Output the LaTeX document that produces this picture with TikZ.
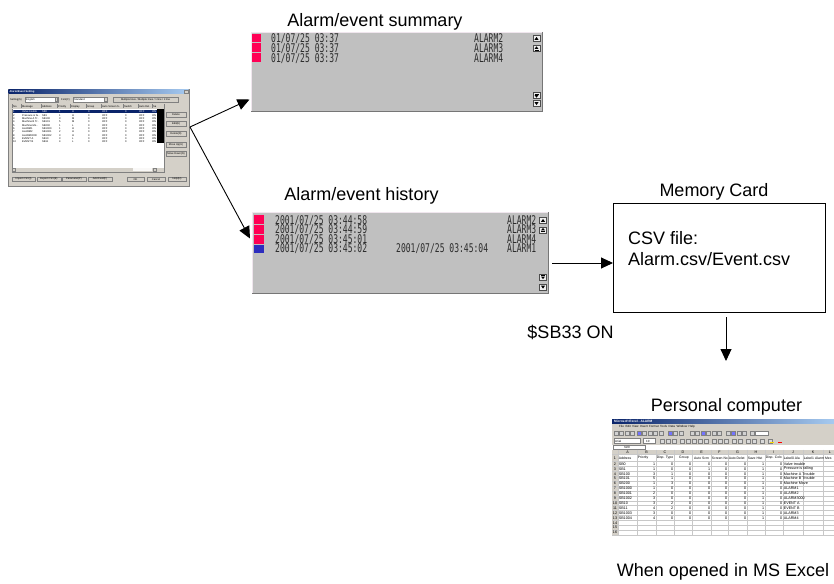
\documentclass[tikz,border=0pt]{standalone}
\usepackage{fontspec}
\setmainfont{Liberation Sans}
\newfontfamily\lcd[FakeStretch=0.67]{DejaVu Sans Mono}
\usetikzlibrary{arrows.meta,calc}
\newcommand\lcdlines[2]{\vtop{\baselineskip=#1\lineskiplimit=-20pt\lineskip=0pt #2}}
\definecolor{panelgray}{RGB}{192,192,192}
\definecolor{panellight}{RGB}{240,230,238}
\definecolor{paneldark}{RGB}{118,118,118}
\definecolor{alarmred}{RGB}{255,0,85}
\definecolor{alarmblue}{RGB}{45,45,190}
\definecolor{lcdtext}{RGB}{45,45,45}
\definecolor{winface}{RGB}{212,208,200}
\definecolor{winnavy}{RGB}{10,36,106}
\definecolor{winsky}{RGB}{166,202,240}
\definecolor{winshadow}{RGB}{128,128,128}
\definecolor{xlgrid}{RGB}{200,200,200}
\begin{document}
\begin{tikzpicture}[x=1pt,y=-1pt,
  caption/.style={font=\fontsize{18}{21}\selectfont, inner sep=0pt, anchor=base},
  bodytext/.style={font=\fontsize{18}{21}\selectfont, inner sep=0pt, anchor=base west},
  panel/.style={fill=panelgray, inner sep=0pt, anchor=north west},
  conn/.style={-{Triangle[length=12pt,width=11pt]}, line width=0.9pt, black},
  lcdrow/.style={font=\lcd\fontsize{12}{12}\selectfont, text=lcdtext, inner sep=0pt, anchor=base west},
  tiny/.style={font=\fontsize{2.6}{3}\selectfont, inner sep=0pt, anchor=west},
  xl/.style={font=\fontsize{3.7}{4}\selectfont, inner sep=0pt},
  winbtn/.style={fill=winface, draw=winshadow, line width=0.3pt},
  sbup/.pic={\filldraw[fill=gray!12, draw=black!70, line width=0.4pt] (-3.5,-3) rectangle (3.5,3);
    \fill[black] (-2,1.3) -- (2,1.3) -- (0,-1.6) -- cycle;},
  sbupbar/.pic={\filldraw[fill=gray!12, draw=black!70, line width=0.4pt] (-3.5,-3) rectangle (3.5,3);
    \fill[black] (-2,0.4) -- (2,0.4) -- (0,-2.1) -- cycle;
    \draw[black, line width=0.5pt] (-2,1.6) -- (2,1.6);},
  sbdown/.pic={\filldraw[fill=gray!12, draw=black!70, line width=0.4pt] (-3.5,-3) rectangle (3.5,3);
    \fill[black] (-2,-1.3) -- (2,-1.3) -- (0,1.6) -- cycle;},
  sbdownbar/.pic={\filldraw[fill=gray!12, draw=black!70, line width=0.4pt] (-3.5,-3) rectangle (3.5,3);
    \fill[black] (-2,-0.4) -- (2,-0.4) -- (0,2.1) -- cycle;
    \draw[black, line width=0.5pt] (-2,-1.6) -- (2,-1.6);},
]
\useasboundingbox (0,0) rectangle (834,583);

% ================= dialog screenshot =================
\node[draw=winshadow, fill=winface, line width=0.4pt, minimum width=181pt, minimum height=97pt, inner sep=0pt, anchor=north west] (dialog) at (8,89) {};
\shade[left color=winnavy, right color=winsky] (8.5,89.5) rectangle (188.5,93.5);
\node[tiny, text=white, font=\bfseries\fontsize{2.6}{3}\selectfont] (dtitle) at (9.5,91.5) {Alarm/Event Setting};
\filldraw[winbtn] (184.5,90.2) rectangle (188,92.8);
\node[tiny] (dset) at (10,99.5) {Setting(S)};
\filldraw[fill=white, draw=winshadow, line width=0.3pt] (25,97) rectangle (58,102);
\node[tiny] (deng) at (26,99.5) {English};
\filldraw[winbtn] (55,97.5) rectangle (57.5,101.5);
\node[tiny] (dfont) at (61,99.5) {Font(F)};
\filldraw[fill=white, draw=winshadow, line width=0.3pt] (73,97) rectangle (107,102);
\node[tiny] (dstd) at (74,99.5) {Standard};
\filldraw[winbtn] (104.5,97.5) rectangle (107,101.5);
\filldraw[winbtn] (113,97) rectangle (178,102);
\node[tiny, anchor=center] (dmulti) at (145.5,99.5) {Multiple lines / Multiple lines / 1 line / 1 line};
% list
\filldraw[fill=white, draw=winshadow, line width=0.3pt] (12,104) rectangle (164,172);
\fill[winface] (12.3,104.3) rectangle (163.7,108.6);
\foreach \hx/\hl [count=\j] in {13/No., 22/Message, 42/Address, 58/Priority, 71/Display, 87/Group, 102/Auto Screen S.., 124/Switch, 139/Auto Del.., 153/Sa}
{
  \node[tiny] (dh\j) at (\hx,106.5) {\hl};
  \draw[winshadow, line width=0.2pt] (\hx-1,104.5) -- (\hx-1,108.4);
}
\fill[winnavy] (12.5,110.2) rectangle (156.5,113.3);
\foreach \n/\m/\a/\p/\d [count=\i] in {1/Valve trouble/SB0/1/H,2/Pressure is fa../SB1/1/H,3/Machine A Tr../SB100/3/M,4/Machine B Tr../SB101/5/M,5/Machine Mo../SB200/1/L,6/ALARM1/SB1000/1/H,7/ALARM2/SB1001/2/H,8/ALARM3000/SB1002/3/H,9/EVENT A/SB10/3/L,10/EVENT B/SB11/4/L}
{
  \pgfmathsetmacro\ry{111.8+(\i-1)*3.33}
  \ifnum\i=1 \def\tc{white}\else\def\tc{black}\fi
  \node[tiny,text=\tc] (dn\i) at (13,\ry) {\n};
  \node[tiny,text=\tc] (dm\i) at (22,\ry) {\m};
  \node[tiny,text=\tc] (da\i) at (42,\ry) {\a};
  \node[tiny,text=\tc] (dp\i) at (59,\ry) {\p};
  \node[tiny,text=\tc] (dd\i) at (72,\ry) {\d};
  \node[tiny,text=\tc] (dg\i) at (88,\ry) {0};
  \node[tiny,text=\tc] (do\i) at (102,\ry) {OFF};
  \node[tiny,text=\tc] (ds\i) at (125,\ry) {0};
  \node[tiny,text=\tc] (dx\i) at (139,\ry) {OFF};
  \node[tiny,text=\tc] (dy\i) at (152,\ry) {ON};
}
\fill[black] (157,109) rectangle (164,143);
\fill[winface] (12.3,168) rectangle (163.7,171.7);
\filldraw[fill=white!85!winface, draw=none] (133,168.3) rectangle (152,171.4);
\filldraw[winbtn] (12.5,168.2) rectangle (15.5,171.5);
\filldraw[winbtn] (153,168.2) rectangle (156,171.5);
% right buttons
\foreach \by/\bt [count=\j] in {112/Delete, 121.5/Edit(E), 131/Delete(D), 142/Move Up(U), 151/Move Down(N)}
{
  \filldraw[winbtn] (166,\by) rectangle (186,\by+5);
  \node[tiny, anchor=center] (drb\j) at (176,\by+2.5) {\bt};
}
% bottom buttons
\foreach \bx/\bw/\bt [count=\j] in {12/23/Import CSV(I), 37/24/Export CSV(E), 62/24/Parameter(P), 88/24/Add Field(F), 127/17/OK, 147/18/Cancel, 168/18/Help(H)}
{
  \filldraw[winbtn] (\bx,177) rectangle (\bx+\bw,181.5);
  \node[tiny, anchor=center] (dbb\j) at (\bx+\bw/2,179.3) {\bt};
}

% ================= alarm/event summary =================
\node[caption] (tsum) at (375,27) {Alarm/event summary};
\node[panel, minimum width=291pt, minimum height=79pt] (summary) at (251,32) {};
\draw[panellight, line width=0.8pt] (summary.south west) -- (summary.north west) -- (summary.north east);
\draw[paneldark, line width=0.8pt] (summary.north east) -- (summary.south east) -- (summary.south west);
\foreach \yy in {33.6, 43.3, 53.0}
{
  \fill[alarmred] (252.3,\yy) rectangle (261,\yy+8.9);
}
\node[lcdrow] (sdt) at (271,42.9) {\lcdlines{9.7pt}{\hbox{01/07/25 03:37}\hbox{01/07/25 03:37}\hbox{01/07/25 03:37}}};
\node[lcdrow] (sal) at (474,42.9) {\lcdlines{9.7pt}{\hbox{ALARM2}\hbox{ALARM3}\hbox{ALARM4}}};
\pic at (536.5,38.5) {sbup};
\pic at (536.5,48.5) {sbupbar};
\pic at (536.5,95.5) {sbdownbar};
\pic at (536.5,103.5) {sbdown};

% ================= alarm/event history =================
\node[caption] (thist) at (361.5,200) {Alarm/event history};
\node[panel, minimum width=296pt, minimum height=81pt] (history) at (252,212) {};
\draw[panellight, line width=0.8pt] (history.south west) -- (history.north west) -- (history.north east);
\draw[paneldark, line width=0.8pt] (history.north east) -- (history.south east) -- (history.south west);
\foreach \yy in {215, 224.8, 234.6}
{
  \fill[alarmred] (254,\yy) rectangle (264,\yy+9.2);
}
\fill[alarmblue] (254,244.6) rectangle (264,253.2);
\node[lcdrow] (hdt) at (275,224.5) {\lcdlines{9.4pt}{\hbox{2001/07/25 03:44:58}\hbox{2001/07/25 03:44:59}\hbox{2001/07/25 03:45:01}\hbox{2001/07/25 03:45:02}}};
\node[lcdrow] (hdt5) at (396,252.7) {2001/07/25 03:45:04};
\node[lcdrow] (hal) at (507,224.5) {\lcdlines{9.4pt}{\hbox{ALARM2}\hbox{ALARM3}\hbox{ALARM4}\hbox{ALARM1}}};
\pic at (543,220.5) {sbup};
\pic at (543,230) {sbupbar};
\pic at (543,277) {sbdownbar};
\pic at (543,287) {sbdown};

% ================= memory card =================
\node[caption] (tcard) at (714,196) {Memory Card};
\node[draw, line width=0.9pt, minimum width=212pt, minimum height=109pt, inner sep=0pt, anchor=north west] (card) at (613,203) {};
\node[bodytext] (csv1) at (628,244) {CSV file:};
\node[bodytext] (csv2) at (628,265) {Alarm.csv/Event.csv};
\node[caption] (tsb) at (570.5,338) {\$SB33 ON};

% ================= Excel screenshot =================
\node[caption] (tpc) at (726.5,411) {Personal computer};
\node[fill=white, minimum width=222pt, minimum height=116pt, inner sep=0pt, anchor=north west] (excel) at (612,419) {};
\shade[left color=winnavy, right color=winsky] (612,419) rectangle (834,423.5);
\node[xl, text=white, anchor=west, font=\bfseries\fontsize{3.2}{4}\selectfont] (xtitle) at (614,421.3) {Microsoft Excel - ALARM};
\fill[winface] (612,423.5) rectangle (834,449.5);
\node[xl, anchor=west, font=\fontsize{3}{4}\selectfont] (xmenu) at (619,426.6) {File\enspace Edit\enspace View\enspace Insert\enspace Format\enspace Tools\enspace Data\enspace Window\enspace Help};
\foreach \xx [count=\j] in {614,619.5,625,630.5,637,642.5,648,653.5,659,668,673.5,679,690,695.5,701,706.5,712,717.5,726,731.5,737,742.5,750}
{
  \pgfmathsetmacro\cl{mod(\j,5)==0 ? 1 : 0}
  \ifdim\cl pt>0.5pt
    \filldraw[fill=blue!55!white, draw=winshadow, line width=0.2pt] (\xx,431) rectangle (\xx+4,435.5);
  \else
    \filldraw[fill=gray!35, draw=winshadow, line width=0.2pt] (\xx,431) rectangle (\xx+4,435.5);
  \fi
}
\filldraw[fill=white, draw=winshadow, line width=0.2pt] (755,431) rectangle (768,435.5);
\filldraw[fill=white, draw=winshadow, line width=0.2pt] (614,438.5) rectangle (640,443.5);
\node[xl, anchor=west, font=\fontsize{3}{4}\selectfont] (xarial) at (615,441) {Arial};
\filldraw[fill=white, draw=winshadow, line width=0.2pt] (643,438.5) rectangle (655,443.5);
\node[xl, anchor=west, font=\fontsize{3}{4}\selectfont] (xten) at (646,441) {10};
\foreach \xx in {660,666,672,680,686,692,698,704,712,718,724,732,738,746,752,760,768}
{
  \filldraw[fill=gray!30, draw=winshadow, line width=0.2pt] (\xx,439) rectangle (\xx+4,443);
}
\fill[yellow!80!orange] (770,441.5) rectangle (774,443);
\fill[red] (778,441.5) rectangle (782,443);
\fill[white] (612,444.8) rectangle (834,449.5);
\filldraw[fill=white, draw=winshadow, line width=0.2pt] (613,445) rectangle (645,449.3);
\node[xl, anchor=center, font=\fontsize{3}{4}\selectfont] (xname) at (627,447.2) {N20};
% column headers
\fill[winface] (612,449.5) rectangle (834,454.5);
\fill[winface] (612,454.5) rectangle (618,535);
\foreach \xl/\xc [count=\j] in {A/627.5,B/646.5,C/665,D/683,E/701.5,F/719.5,G/737.5,H/756,I/774,J/793,K/813,L/830}
{
  \node[xl, anchor=center] (xc\j) at (\xc,452) {\xl};
}
\foreach \xx in {618,637,656,674,692,711,728,747,765,783,803,823}
{
  \draw[xlgrid, line width=0.25pt] (\xx,449.5) -- (\xx,535);
}
\draw[xlgrid, line width=0.25pt] (612,454.5) -- (834,454.5);
\foreach \r in {0,...,15}
{
  \draw[xlgrid, line width=0.25pt] (612,461.5+\r*4.9) -- (834,461.5+\r*4.9);
}
\foreach \r in {1,...,16}
{
  \ifnum\r=1 \def\ry{458}\else\pgfmathsetmacro\ry{461.5+(\r-2)*4.9+2.45}\fi
  \node[xl, anchor=center] (xr\r) at (615,\ry) {\r};
}
% header row 1
\foreach \hx/\hl [count=\j] in {618.6/Address, 637.6/Priority, 656.6/Disp. Type, 679/Group, 694/Auto Scrn, 711.6/Screen No, 728.6/Auto Delet, 747.6/Save Hist, 765.6/Disp. Colo, 783.6/Label0 Ala, 803.6/Label1, 815/Alarm Mes}
{
  \node[xl, anchor=west, font=\fontsize{3.4}{4}\selectfont] (xh\j) at (\hx,458) {\hl};
}
\foreach \ad/\vb/\vc/\ve/\lab [count=\i] in {SB0/1/0/0/Valve trouble,SB1/1/0/1/Pressure is falling,SB100/3/1/0/Machine A Trouble,SB101/5/1/0/Machine B Trouble,SB200/1/3/0/Machine Move,SB1000/1/0/0/ALARM1,SB1001/2/0/0/ALARM2,SB1002/3/0/0/ALARM3000,SB10/3/2/0/EVENT A,SB11/4/2/0/EVENT B,SB1003/3/0/0/ALARM3,SB1004/4/0/0/ALARM4}
{
  \pgfmathsetmacro\ry{461.5+(\i-1)*4.9+2.45}
  \node[xl,anchor=west] (xa\i) at (618.6,\ry) {\ad};
  \node[xl,anchor=east] (xb\i) at (655.4,\ry) {\vb};
  \node[xl,anchor=east] (xcc\i) at (673.4,\ry) {\vc};
  \node[xl,anchor=east] (xd\i) at (691.4,\ry) {0};
  \node[xl,anchor=east] (xe\i) at (710.4,\ry) {\ve};
  \node[xl,anchor=east] (xf\i) at (727.4,\ry) {0};
  \node[xl,anchor=east] (xg\i) at (746.4,\ry) {0};
  \node[xl,anchor=east] (xhh\i) at (764.4,\ry) {1};
  \node[xl,anchor=east] (xi\i) at (782.4,\ry) {0};
  \node[xl,anchor=west] (xj\i) at (783.6,\ry) {\lab};
}
\node[caption] (texcel) at (723,576) {When opened in MS Excel};

% ================= connectors =================
\coordinate (src) at (190,127);
\coordinate (sumin) at (249.5,99.5);
\coordinate (histin) at (250,238.5);
\coordinate (hout) at (552,263);
\coordinate (pcin) at (726,361);
\draw[conn] (src) -- (sumin);
\draw[conn] (src) -- (histin);
\draw[conn] (hout) -- (hout -| card.west);
\draw[conn] ($(card.south -| pcin)+(0,4.5)$) -- (pcin);
\end{tikzpicture}
\end{document}
